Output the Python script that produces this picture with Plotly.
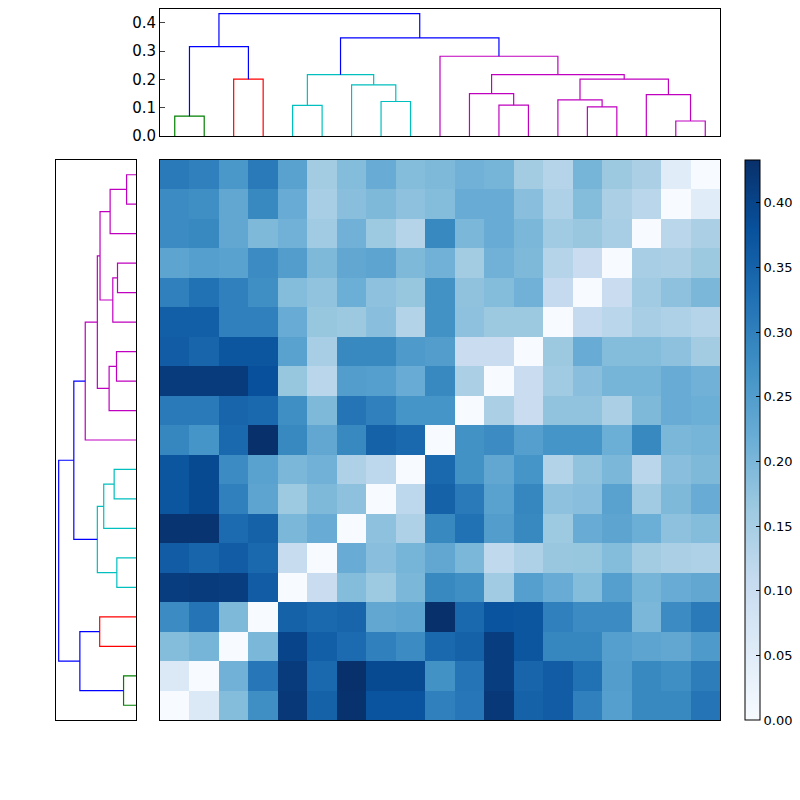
import plotly.graph_objects as go

# Distance matrix rows, bottom row (r=0) first, columns left to right
row00 = [0.0, 0.06, 0.19, 0.275, 0.42, 0.35, 0.43, 0.375, 0.375, 0.3, 0.315, 0.42, 0.35, 0.36, 0.3, 0.245, 0.285, 0.285, 0.32]
row01 = [0.06, 0.0, 0.21, 0.315, 0.415, 0.34, 0.433, 0.39, 0.39, 0.27, 0.32, 0.41, 0.345, 0.36, 0.325, 0.25, 0.285, 0.275, 0.305]
row02 = [0.19, 0.205, 0.0, 0.2, 0.4, 0.355, 0.335, 0.3, 0.28, 0.34, 0.35, 0.41, 0.37, 0.29, 0.29, 0.245, 0.235, 0.23, 0.255]
row03 = [0.28, 0.32, 0.195, 0.0, 0.35, 0.34, 0.345, 0.23, 0.235, 0.433, 0.34, 0.375, 0.37, 0.3, 0.28, 0.28, 0.2, 0.28, 0.31]
row04 = [0.41, 0.415, 0.41, 0.36, 0.0, 0.1, 0.19, 0.162, 0.2, 0.285, 0.275, 0.16, 0.245, 0.22, 0.19, 0.245, 0.205, 0.22, 0.23]
row05 = [0.36, 0.345, 0.36, 0.34, 0.105, 0.0, 0.22, 0.185, 0.205, 0.23, 0.2, 0.115, 0.14, 0.168, 0.17, 0.19, 0.155, 0.145, 0.14]
row06 = [0.425, 0.425, 0.335, 0.35, 0.2, 0.22, 0.0, 0.18, 0.14, 0.285, 0.325, 0.25, 0.285, 0.162, 0.22, 0.235, 0.215, 0.18, 0.19]
row07 = [0.37, 0.39, 0.3, 0.235, 0.162, 0.195, 0.18, 0.0, 0.12, 0.35, 0.31, 0.24, 0.29, 0.18, 0.185, 0.24, 0.16, 0.195, 0.22]
row08 = [0.37, 0.39, 0.28, 0.24, 0.2, 0.21, 0.14, 0.12, 0.0, 0.34, 0.27, 0.23, 0.265, 0.135, 0.175, 0.2, 0.125, 0.185, 0.195]
row09 = [0.29, 0.265, 0.34, 0.433, 0.285, 0.23, 0.285, 0.35, 0.34, 0.0, 0.27, 0.28, 0.245, 0.265, 0.265, 0.215, 0.285, 0.2, 0.205]
row10 = [0.31, 0.31, 0.345, 0.34, 0.275, 0.195, 0.32, 0.3, 0.265, 0.265, 0.0, 0.145, 0.1, 0.175, 0.175, 0.145, 0.195, 0.22, 0.215]
row11 = [0.415, 0.415, 0.415, 0.38, 0.17, 0.125, 0.25, 0.245, 0.22, 0.285, 0.145, 0.0, 0.1, 0.158, 0.185, 0.205, 0.205, 0.22, 0.21]
row12 = [0.36, 0.345, 0.37, 0.37, 0.24, 0.15, 0.285, 0.285, 0.255, 0.25, 0.1, 0.1, 0.0, 0.165, 0.22, 0.19, 0.19, 0.18, 0.155]
row13 = [0.355, 0.355, 0.3, 0.3, 0.22, 0.17, 0.165, 0.185, 0.135, 0.27, 0.18, 0.165, 0.165, 0.0, 0.11, 0.125, 0.15, 0.14, 0.13]
row14 = [0.3, 0.325, 0.3, 0.275, 0.19, 0.175, 0.215, 0.18, 0.17, 0.27, 0.177, 0.19, 0.21, 0.11, 0.0, 0.1, 0.16, 0.18, 0.2]
row15 = [0.235, 0.245, 0.24, 0.28, 0.25, 0.195, 0.23, 0.235, 0.195, 0.21, 0.155, 0.21, 0.195, 0.13, 0.1, 0.0, 0.15, 0.145, 0.165]
row16 = [0.28, 0.285, 0.23, 0.195, 0.21, 0.16, 0.21, 0.162, 0.13, 0.285, 0.2, 0.22, 0.2, 0.158, 0.168, 0.15, 0.0, 0.125, 0.145]
row17 = [0.28, 0.275, 0.23, 0.285, 0.22, 0.15, 0.185, 0.195, 0.18, 0.19, 0.22, 0.22, 0.185, 0.14, 0.19, 0.145, 0.125, 0.0, 0.05]
row18 = [0.31, 0.3, 0.26, 0.31, 0.24, 0.155, 0.19, 0.22, 0.19, 0.195, 0.21, 0.205, 0.155, 0.13, 0.205, 0.165, 0.145, 0.05, 0.0]
matrix = [row00, row01, row02, row03, row04, row05, row06, row07, row08, row09,
          row10, row11, row12, row13, row14, row15, row16, row17, row18]

# Linkages: (left id, right id, height, color); new clusters numbered from 19
top_links = [
    (0, 1, 0.07, 'g'), (2, 3, 0.201, 'r'), (19, 20, 0.316, 'b'),
    (4, 5, 0.108, 'c'), (7, 8, 0.122, 'c'), (6, 23, 0.181, 'c'), (22, 24, 0.217, 'c'),
    (11, 12, 0.109, 'm'), (10, 26, 0.15, 'm'), (14, 15, 0.103, 'm'), (13, 28, 0.128, 'm'),
    (17, 18, 0.053, 'm'), (16, 30, 0.146, 'm'), (29, 31, 0.201, 'm'), (27, 32, 0.217, 'm'),
    (9, 33, 0.282, 'm'), (25, 34, 0.347, 'b'), (21, 35, 0.433, 'b'),
]
left_links = [
    (0, 1, 0.074, 'g'), (2, 3, 0.216, 'r'), (19, 20, 0.334, 'b'),
    (4, 5, 0.114, 'c'), (7, 8, 0.13, 'c'), (6, 23, 0.192, 'c'), (22, 24, 0.23, 'c'),
    (11, 12, 0.116, 'm'), (10, 26, 0.16, 'm'), (14, 15, 0.11, 'm'), (13, 28, 0.138, 'm'),
    (17, 18, 0.056, 'm'), (16, 30, 0.154, 'm'), (29, 31, 0.214, 'm'), (27, 32, 0.23, 'm'),
    (9, 33, 0.302, 'm'), (25, 34, 0.37, 'b'), (21, 35, 0.46, 'b'),
]
colbar_ticks = [0.0, 0.05, 0.1, 0.15, 0.2, 0.25, 0.3, 0.35, 0.4]
n = 19
COLORS = {'g': '#008000', 'r': '#ff0000', 'b': '#0000ff', 'c': '#00bfbf', 'm': '#bf00bf'}

def dendro_segments(links):
    pos = {i: 5 + 10 * i for i in range(n)}
    hgt = {i: 0.0 for i in range(n)}
    segs = []
    for k, (a, b, h, c) in enumerate(links):
        cid = n + k
        segs.append(([pos[a], pos[a], pos[b], pos[b]], [hgt[a], h, h, hgt[b]], COLORS[c]))
        pos[cid] = (pos[a] + pos[b]) / 2
        hgt[cid] = h
    return segs

W = 784.0
def fx(px):
    return (px - 8) / W
def fy(px):
    return 1 - (px - 8) / W

fig = go.Figure()
for xs, ys, c in dendro_segments(top_links):
    fig.add_trace(go.Scatter(x=xs, y=ys, mode='lines', line=dict(color=c, width=1.2),
                             xaxis='x2', yaxis='y2', showlegend=False, hoverinfo='skip'))
for xs, ys, c in dendro_segments(left_links):
    fig.add_trace(go.Scatter(x=ys, y=xs, mode='lines', line=dict(color=c, width=1.2),
                             xaxis='x3', yaxis='y3', showlegend=False, hoverinfo='skip'))

blues = [[0.0, '#f7fbff'], [0.125, '#deebf7'], [0.25, '#c6dbef'], [0.375, '#9ecae1'],
         [0.5, '#6baed6'], [0.625, '#4292c6'], [0.75, '#2171b5'], [0.875, '#08519c'], [1.0, '#08306b']]
fig.add_trace(go.Heatmap(z=matrix, x=list(range(n)), y=list(range(n)), colorscale=blues,
                         zmin=0, zmax=0.433, xaxis='x', yaxis='y',
                         colorbar=dict(x=fx(745), xanchor='left', y=fy(720), yanchor='bottom',
                                       len=560 / W, lenmode='fraction', thickness=15, xpad=0, ypad=0,
                                       outlinecolor='black', outlinewidth=1,
                                       tickvals=colbar_ticks, tickformat='.2f',
                                       ticks='inside', ticklen=4, tickcolor='black',
                                       tickfont=dict(size=13, color='black'))))

box = dict(showline=True, linecolor='black', linewidth=1, mirror=True, showgrid=False, zeroline=False)
fig.update_layout(
    width=784, height=784, margin=dict(l=0, r=0, t=0, b=0, autoexpand=False),
    paper_bgcolor='white', plot_bgcolor='white',
    font=dict(family='DejaVu Sans', size=15, color='black'),
    xaxis=dict(domain=[fx(160), fx(720)], range=[-0.5, n - 0.5], showticklabels=False, ticks='', **box),
    yaxis=dict(domain=[fy(720), fy(160)], range=[-0.5, n - 0.5], showticklabels=False, ticks='', **box),
    xaxis2=dict(domain=[fx(160), fx(720)], range=[0, 10 * n], anchor='y2', showticklabels=False, ticks='', **box),
    yaxis2=dict(domain=[fy(136), 0.999], range=[0, 0.45], anchor='x2', tickvals=[0, 0.1, 0.2, 0.3, 0.4],
                tickformat='.1f', ticks='inside', ticklen=5, **box),
    xaxis3=dict(domain=[fx(56), fx(136)], range=[0.476, 0], anchor='y3', showticklabels=False, ticks='', **box),
    yaxis3=dict(domain=[fy(720), fy(160)], range=[0, 10 * n], anchor='x3', showticklabels=False, ticks='', **box),
)
fig.write_html('out.html')
